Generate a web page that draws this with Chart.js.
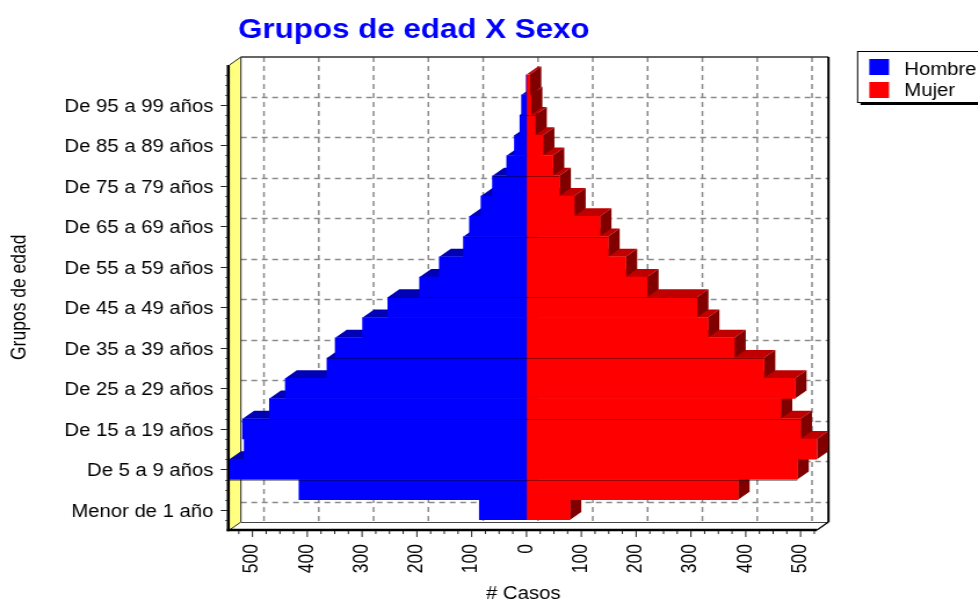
<!DOCTYPE html>
<html>
<head>
<meta charset="utf-8">
<script src="https://cdn.jsdelivr.net/npm/chart.js@4/dist/chart.umd.min.js"></script>
<style>
  html, body { margin: 0; padding: 0; background: #fff; overflow: hidden; }
  /* the chart is laid out narrower and stretched sideways to the full 978px width */
  #wrap { position: relative; width: 843px; height: 603px; transform: scaleX(1.16); transform-origin: 0 0; }
</style>
</head>
<body>
<div id="wrap"><canvas id="piramide"></canvas></div>
<script>
// Age groups, bottom to top
const ageGroups = [
  "Menor de 1 año", "De 1 a 4 años", "De 5 a 9 años", "De 10 a 14 años",
  "De 15 a 19 años", "De 20 a 24 años", "De 25 a 29 años", "De 30 a 34 años",
  "De 35 a 39 años", "De 40 a 44 años", "De 45 a 49 años", "De 50 a 54 años",
  "De 55 a 59 años", "De 60 a 64 años", "De 65 a 69 años", "De 70 a 74 años",
  "De 75 a 79 años", "De 80 a 84 años", "De 85 a 89 años", "De 90 a 94 años",
  "De 95 a 99 años", "De 100 y más años"
];
// Cases per group
const hombres = [86, 415, 542, 515, 518, 469, 440, 364, 349, 299, 253, 195, 159, 115, 104, 83, 62, 36, 22, 12, 9, 0];
const mujeres = [79, 386, 494, 530, 500, 464, 490, 433, 379, 331, 311, 220, 181, 149, 134, 87, 60, 48, 30, 16, 8, 6];
// Horizontal axis
const casosTicks = [-500, -400, -300, -200, -100, 0, 100, 200, 300, 400, 500];
const casosMin = -542;
const casosMax = 530;

const FONT = '"Liberation Sans", Arial, Helvetica, sans-serif';
const TEXT_SIZE = 17.5;
Chart.defaults.font.family = FONT;
Chart.defaults.font.size = TEXT_SIZE;
Chart.defaults.color = '#000';

// depth of the pseudo-3D box and bars
const DX = 9.9, DY = 8;

function seg(ctx, x1, y1, x2, y2) {
  ctx.beginPath(); ctx.moveTo(x1, y1); ctx.lineTo(x2, y2); ctx.stroke();
}
function poly(ctx, pts, fill) {
  ctx.beginPath();
  ctx.moveTo(pts[0][0], pts[0][1]);
  for (let k = 1; k < pts.length; k++) ctx.lineTo(pts[k][0], pts[k][1]);
  ctx.closePath();
  ctx.fillStyle = fill; ctx.fill();
}
function barBox(el) {
  const p = el.getProps(['x', 'y', 'base', 'height'], true);
  return {
    xa: Math.min(p.x, p.base), xb: Math.max(p.x, p.base),
    yt: p.y - p.height / 2, yb: p.y + p.height / 2
  };
}

const box3d = {
  id: 'box3d',
  beforeDraw(chart) {
    const { ctx, chartArea: a, scales: { x, y } } = chart;
    const L = a.left, R = a.right, FT = a.top - 9.5, FB = a.bottom + 10;
    ctx.save();
    // back wall
    ctx.fillStyle = '#fff';
    ctx.fillRect(L + DX, FT - DY, R - L, FB - FT);
    // dashed grid on the back wall
    ctx.strokeStyle = '#8a8a8a';
    ctx.lineWidth = 1.5;
    ctx.setLineDash([5, 4]);
    casosTicks.forEach(v => {
      const px = x.getPixelForValue(v) + DX;
      seg(ctx, px, FT - DY, px, FB - DY);
    });
    for (let i = 0; i < ageGroups.length; i += 2) {
      const py = Math.round(y.getPixelForValue(i) - DY) + 0.5;
      seg(ctx, L + DX, py, R + DX, py);
    }
    ctx.setLineDash([]);
    // back wall frame
    ctx.strokeStyle = '#333';
    ctx.lineWidth = 1.5;
    seg(ctx, L + DX, FT - DY, R + DX, FT - DY);
    ctx.strokeStyle = '#000';
    ctx.lineWidth = 2;
    seg(ctx, R + DX, FT - DY, R + DX, FB - DY);
    // floor
    poly(ctx, [[L, FB], [R, FB], [R + DX, FB - DY], [L + DX, FB - DY]], '#fff');
    ctx.strokeStyle = '#444';
    ctx.lineWidth = 1;
    seg(ctx, L + DX, FB - DY + 0.5, R + DX, FB - DY + 0.5);
    ctx.strokeStyle = '#000';
    ctx.lineWidth = 1.3;
    seg(ctx, R, FB, R + DX, FB - DY);
    // left wall
    poly(ctx, [[L, FT], [L + DX, FT - DY], [L + DX, FB - DY], [L, FB]], '#ffff80');
    ctx.strokeStyle = '#222';
    ctx.lineWidth = 1;
    seg(ctx, L + DX, FT - DY, L + DX, FB - DY);
    seg(ctx, L, FT, L + DX, FT - DY);
    seg(ctx, L, FB, L + DX, FB - DY);
    ctx.restore();
  },
  beforeDatasetsDraw(chart) {
    const { ctx, chartArea: a, scales: { x, y } } = chart;
    const L = a.left, R = a.right, FT = a.top - 9.5, FB = a.bottom + 10;
    ctx.save();
    // front axis lines
    ctx.strokeStyle = '#000';
    ctx.lineWidth = 2.6;
    seg(ctx, L - 1, FT, L - 1, FB + 1.3);
    seg(ctx, L - 2.3, FB, R, FB);
    // left axis ticks (major at labelled groups, three minor between)
    ctx.lineWidth = 1;
    ctx.strokeStyle = '#222';
    for (let q = -0.5; q <= ageGroups.length - 0.5; q += 0.5) {
      const py = Math.round(y.getPixelForValue(q)) + 0.5;
      if (py < FT || py > FB) continue;
      const major = Math.abs(q % 2) < 1e-6;
      seg(ctx, L - (major ? 7.5 : 3.5), py, L - 2, py);
    }
    // bottom axis ticks
    for (let v = -525; v <= casosMax; v += 25) {
      if (v < casosMin) continue;
      const px = x.getPixelForValue(v);
      const major = v % 100 === 0;
      seg(ctx, px, FB + 1, px, FB + (major ? 7 : 4));
    }
    // depth faces of the bars, bottom row first
    const faces = [
      { top: '#0000b4', side: '#00007a' },
      { top: '#c00000', side: '#800000' }
    ];
    const metas = [chart.getDatasetMeta(0), chart.getDatasetMeta(1)];
    for (let i = 0; i < ageGroups.length; i++) {
      metas.forEach((meta, d) => {
        const el = meta.data[i];
        if (!el) return;
        const b = barBox(el);
        if (b.xb - b.xa < 0.2) return;
        poly(ctx, [[b.xa, b.yt], [b.xb, b.yt], [b.xb + DX, b.yt - DY], [b.xa + DX, b.yt - DY]], faces[d].top);
        poly(ctx, [[b.xb, b.yt], [b.xb + DX, b.yt - DY], [b.xb + DX, b.yb - DY], [b.xb, b.yb]], faces[d].side);
      });
    }
    ctx.restore();
  },
  afterDatasetsDraw(chart) {
    // faint edge lines left between some of the stacked rows
    const { ctx } = chart;
    const metas = [chart.getDatasetMeta(0), chart.getDatasetMeta(1)];
    ctx.save();
    ctx.strokeStyle = 'rgba(0,0,0,0.4)';
    ctx.lineWidth = 1;
    for (let i = 1; i < ageGroups.length - 1; i += 3) {
      metas.forEach(meta => {
        const lo = barBox(meta.data[i]), hi = barBox(meta.data[i + 1]);
        const xa = Math.min(lo.xa, hi.xa), xb = Math.max(lo.xb, hi.xb);
        if (xb - xa < 0.5) return;
        const py = Math.round(lo.yt) + 0.5;
        seg(ctx, xa, py, xb, py);
      });
    }
    ctx.restore();
  },
  afterDraw(chart) {
    const { ctx } = chart;
    ctx.save();
    // title
    ctx.font = 'bold 27px ' + FONT;
    ctx.fillStyle = '#0000ff';
    ctx.textAlign = 'left';
    ctx.textBaseline = 'alphabetic';
    ctx.fillText('Grupos de edad X Sexo', 205.2, 38);
    // legend box with drop shadow
    const bx = 738.8, by = 51, bw = 120, bh = 51;
    ctx.fillStyle = '#000';
    ctx.fillRect(bx + 3, by + 3, bw, bh);
    ctx.fillStyle = '#fff';
    ctx.fillRect(bx, by, bw, bh);
    ctx.strokeStyle = '#000';
    ctx.lineWidth = 1;
    ctx.strokeRect(bx + 0.5, by + 0.5, bw, bh);
    const items = [
      { text: chart.data.datasets[0].label, color: chart.data.datasets[0].backgroundColor, sy: 59, base: 74.5 },
      { text: chart.data.datasets[1].label, color: chart.data.datasets[1].backgroundColor, sy: 82, base: 96 }
    ];
    ctx.font = TEXT_SIZE + 'px ' + FONT;
    items.forEach(it => {
      ctx.fillStyle = it.color;
      ctx.fillRect(749.4, it.sy, 17, 16);
      ctx.fillStyle = '#000';
      ctx.fillText(it.text, 779.6, it.base);
    });
    ctx.restore();
  }
};

new Chart(document.getElementById('piramide'), {
  type: 'bar',
  data: {
    labels: ageGroups,
    datasets: [
      { label: 'Hombre', data: hombres.map(v => -v), backgroundColor: '#0000ff', borderWidth: 0,
        barPercentage: 1, categoryPercentage: 1 },
      { label: 'Mujer', data: mujeres, backgroundColor: '#ff0000', borderWidth: 0,
        barPercentage: 1, categoryPercentage: 1 }
    ]
  },
  options: {
    indexAxis: 'y',
    responsive: true,
    maintainAspectRatio: false,
    animation: false,
    events: [],
    layout: { padding: { left: 0, right: 138.7, top: 74.5, bottom: 0 } },
    plugins: {
      legend: { display: false },
      title: { display: false },
      tooltip: { enabled: false }
    },
    scales: {
      x: {
        type: 'linear',
        stacked: true,
        min: casosMin,
        max: casosMax,
        grid: { display: false, drawTicks: false },
        border: { display: false },
        afterBuildTicks: s => { s.ticks = casosTicks.map(v => ({ value: v })); },
        afterFit: s => { s.height = 83; },
        ticks: {
          autoSkip: false, minRotation: 90, maxRotation: 90, padding: 24,
          callback: v => String(Math.abs(v))
        },
        title: { display: true, text: '# Casos', padding: { top: 0, bottom: 0 },
                 font: { size: TEXT_SIZE, lineHeight: 1 } }
      },
      y: {
        type: 'category',
        stacked: true,
        reverse: true,
        grid: { display: false, drawTicks: false },
        border: { display: false },
        afterFit: s => { s.width = 197.8; },
        ticks: {
          autoSkip: false, padding: 13.8, labelOffset: 2,
          callback: (v, i) => (i % 2 === 0 ? ageGroups[i] : '')
        },
        title: { display: true, text: 'Grupos de edad', padding: { top: 8.5, bottom: 0 },
                 font: { size: TEXT_SIZE, lineHeight: 1 } }
      }
    }
  },
  plugins: [box3d]
});
</script>
</body>
</html>
